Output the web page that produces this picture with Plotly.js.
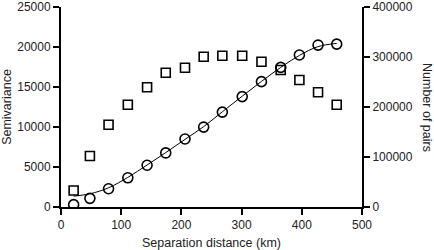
<!DOCTYPE html>
<html><head><meta charset="utf-8">
<script src="https://cdn.plot.ly/plotly-3.0.1.min.js"></script>
<style>html,body{margin:0;padding:0;background:#fff}#c{width:434px;height:250px}</style>
</head><body><div id="c"></div>
<script>
const lagDistance = [21, 48, 79, 111, 143, 174, 206, 237, 268, 301, 333, 365, 396, 427, 458];
const semivariance = [300, 1080, 2280, 3650, 5220, 6760, 8500, 9990, 11860, 13800, 15670, 17450, 19000, 20240, 20360];
const numberOfPairs = [33000, 102000, 164500, 204500, 239500, 268500, 278500, 300500, 302500, 302500, 290500, 274000, 254000, 229500, 204500];
const modelSemivariance = [1350, 1650, 2400, 3700, 5250, 6800, 8450, 10050, 11900, 13850, 15700, 17450, 18950, 20050, 20450];
const xTicks = [0, 100, 200, 300, 400, 500];
const yTicks = [0, 5000, 10000, 15000, 20000, 25000];
const y2Ticks = [0, 100000, 200000, 300000, 400000];

const fontFam = '"Liberation Sans", Arial, Helvetica, sans-serif';
const traces = [
  {x: lagDistance, y: modelSemivariance, mode: 'lines', line: {color: '#000', width: 1, shape: 'spline'}, xaxis: 'x', yaxis: 'y', hoverinfo: 'skip'},
  {x: lagDistance, y: semivariance, mode: 'markers', marker: {symbol: 'circle-open', size: 10, color: '#000', line: {width: 1.6, color: '#000'}}, xaxis: 'x', yaxis: 'y'},
  {x: lagDistance, y: numberOfPairs, mode: 'markers', marker: {symbol: 'square-open', size: 9, color: '#000', line: {width: 1.6, color: '#000'}}, xaxis: 'x', yaxis: 'y2'}
];
const axisCommon = {showline: true, linecolor: '#000', linewidth: 2, ticks: 'outside', ticklen: 6, tickwidth: 2, tickcolor: '#000', showgrid: false, zeroline: false, ticklabeloverflow: 'allow', tickfont: {family: fontFam, size: 12, color: '#222'}};
const layout = {
  width: 434, height: 250,
  margin: {l: 61, r: 72, t: 7, b: 43},
  paper_bgcolor: '#fff', plot_bgcolor: '#fff',
  showlegend: false,
  font: {family: fontFam, color: '#222'},
  xaxis: Object.assign({}, axisCommon, {range: [0, 500], tickvals: xTicks, ticktext: xTicks.map(String), title: {text: 'Separation distance (km)', font: {family: fontFam, size: 12.5, color: '#222'}, standoff: 7}}),
  yaxis: Object.assign({}, axisCommon, {range: [0, 25000], tickvals: yTicks, ticktext: yTicks.map(String), title: {text: 'Semivariance', font: {family: fontFam, size: 12.5, color: '#222'}, standoff: 3}}),
  yaxis2: Object.assign({}, axisCommon, {range: [0, 400000], tickvals: y2Ticks, ticktext: y2Ticks.map(String), overlaying: 'y', side: 'right', anchor: 'x'}),
  annotations: [{text: 'Number of pairs', textangle: 90, xref: 'paper', yref: 'paper', x: 1, xanchor: 'center', xshift: 65, y: 0.5, showarrow: false, font: {family: fontFam, size: 12.5, color: '#222'}}]
};
Plotly.newPlot('c', traces, layout, {staticPlot: true, displayModeBar: false});
</script></body></html>
